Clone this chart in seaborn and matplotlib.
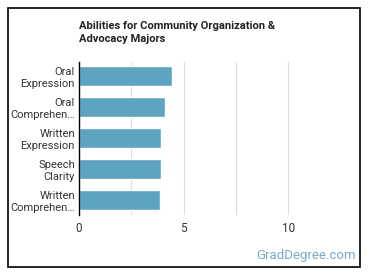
import pandas as pd
import seaborn as sns
import matplotlib.pyplot as plt
from matplotlib.patches import Rectangle

# Data
abilities = ['Oral\nExpression', 'Oral\nComprehen…', 'Written\nExpression',
             'Speech\nClarity', 'Written\nComprehen…']
scores = [4.43, 4.1, 3.9, 3.9, 3.86]
tick_vals = [0, 2.5, 5, 7.5, 10]
tick_labels = ['0', '', '5', '', '10']

df = pd.DataFrame({'ability': abilities, 'score': scores})

sns.set_style('white')
plt.rcParams['font.family'] = ['Roboto', 'DejaVu Sans']

fig = plt.figure(figsize=(3.7, 2.78), dpi=100)
ax = fig.add_axes([0.2135, 0.227, 0.707, 0.55])

sns.barplot(data=df, x='score', y='ability', color='#5DA4C1', width=0.65,
            saturation=1, ax=ax, orient='h')

ax.set_xlim(0, 12.5)
ax.set_ylim(4.48, -0.45)
ax.set_xticks(tick_vals)
ax.set_xticklabels(tick_labels, fontsize=8.5, color='#333333')
ax.tick_params(axis='both', length=0, pad=3)
ax.tick_params(axis='y', labelsize=8, labelcolor='#333333')
ax.tick_params(axis='x', pad=5)
ax.xaxis.grid(True, color='#dddddd', linewidth=0.8)
ax.set_axisbelow(True)
ax.set_xlabel('')
ax.set_ylabel('')
for side in ['top', 'right', 'bottom']:
    ax.spines[side].set_visible(False)
ax.spines['left'].set_color('black')
ax.spines['left'].set_linewidth(1)

fig.text(79 / 370, 1 - 21 / 278,
         'Abilities for Community Organization &\nAdvocacy Majors',
         fontsize=8, fontweight='bold', color='#222222', va='top', ha='left',
         linespacing=1.4)
fig.text(356 / 370, 1 - 255 / 278, 'GradDegree.com', fontsize=9.5,
         color='#7BA8C6', ha='right', va='center')

# outer frame
fig.patches.append(Rectangle((8 / 370, 1 - 267 / 278), 352 / 370, 259 / 278,
                             transform=fig.transFigure, fill=False,
                             edgecolor='black', linewidth=1.2))

fig.savefig('out.png', dpi=100)
